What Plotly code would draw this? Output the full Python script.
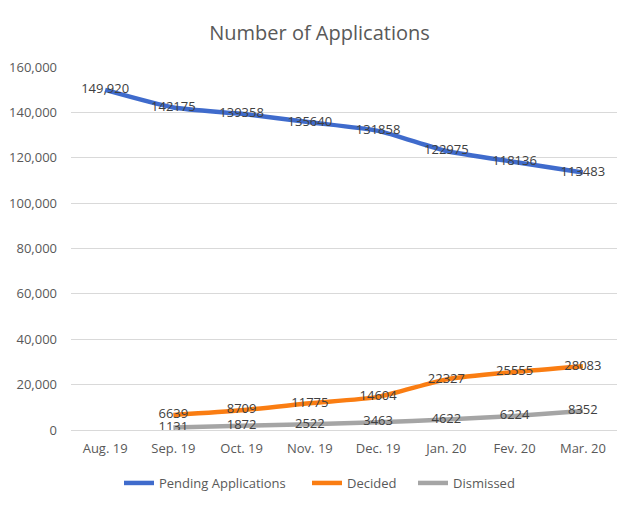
import plotly.graph_objects as go

months = ["Aug. 19", "Sep. 19", "Oct. 19", "Nov. 19", "Dec. 19", "Jan. 20", "Fev. 20", "Mar. 20"]
pending = [149920, 142175, 139358, 135640, 131858, 122975, 118136, 113483]
decided = [None, 6639, 8709, 11775, 14604, 22327, 25555, 28083]
dismissed = [None, 1131, 1872, 2522, 3463, 4622, 6224, 8352]

# the first pending label has a thousands separator in the original, the rest don't
pending_text = ["149,920"] + [str(v) for v in pending[1:]]
decided_text = ["" if v is None else str(v) for v in decided]
dismissed_text = ["" if v is None else str(v) for v in dismissed]

series = [
    ("Pending Applications", pending, pending_text, "#3F6BCC", "legend"),
    ("Decided", decided, decided_text, "#FA7D12", "legend2"),
    ("Dismissed", dismissed, dismissed_text, "#A5A5A5", "legend3"),
]

# page body has an 8px margin, so the figure is 16px smaller than the window
W, H = 623, 493

fig = go.Figure()
for name, vals, txt, color, leg in series:
    fig.add_trace(go.Scatter(
        x=months, y=vals, name=name, text=txt, legend=leg,
        mode="lines+text", textposition="middle center",
        textfont=dict(size=13, color="#404040"),
        line=dict(color=color, width=4.5, shape="spline", smoothing=0.6),
        connectgaps=False,
    ))

# one legend per series so the entries can be spaced like the original
legend_style = dict(orientation="h", xanchor="left", xref="container",
                    yref="container", y=18 / H, yanchor="middle",
                    bgcolor="rgba(0,0,0,0)", font=dict(size=13, color="#595959"))

fig.update_layout(
    width=W, height=H,
    margin=dict(l=63, r=14, t=59, b=71, autoexpand=False),
    paper_bgcolor="white", plot_bgcolor="white",
    font=dict(family="Open Sans, sans-serif", size=13, color="#595959"),
    title=dict(text="Number of Applications", x=0.5, xanchor="center",
               y=1 - 25 / H, yanchor="middle",
               font=dict(size=20, color="#595959")),
    showlegend=True,
    legend=dict(x=111 / W, **legend_style),
    legend2=dict(x=299 / W, **legend_style),
    legend3=dict(x=405 / W, **legend_style),
)
fig.update_xaxes(type="category", range=[-0.5, 7.5], showgrid=False, automargin=False,
                 showline=False, ticks="", ticklabelstandoff=9,
                 tickfont=dict(size=13, color="#595959"))
fig.update_yaxes(range=[0, 160000], dtick=20000, tickformat=",", automargin=False,
                 showgrid=True, gridcolor="#D9D9D9", gridwidth=1,
                 zeroline=True, zerolinecolor="#D9D9D9", zerolinewidth=1,
                 showline=False, ticks="", ticklabelstandoff=13,
                 tickfont=dict(size=13, color="#595959"))

fig.write_html("out.html")
